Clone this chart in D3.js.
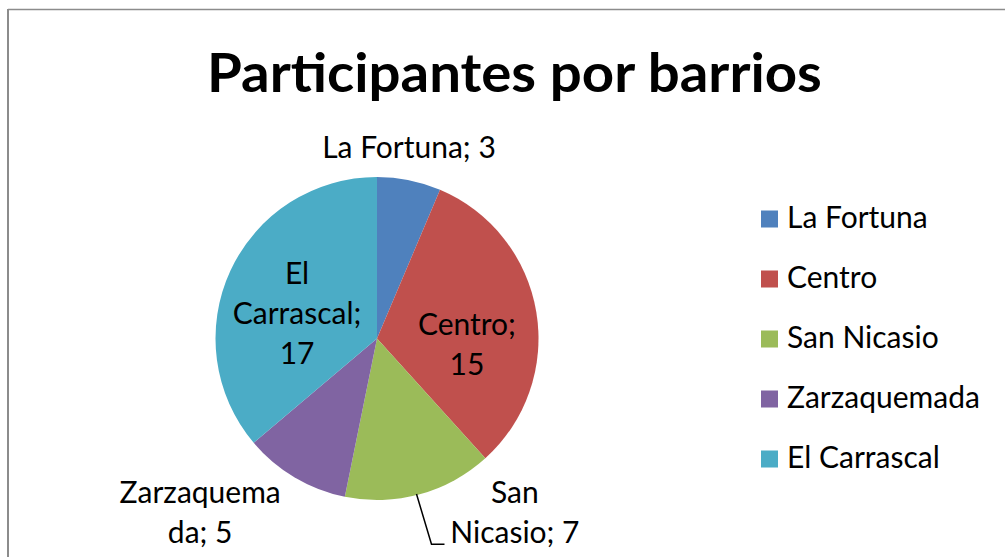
<!DOCTYPE html>
<html>
<head>
<meta charset="utf-8">
<script src="https://cdn.jsdelivr.net/npm/d3@7"></script>
<style>
html,body{margin:0;padding:0;background:#fff;}
svg{display:block;}
text{font-family:Lato,"Open Sans",sans-serif;fill:#000;}
</style>
</head>
<body>
<svg id="chart" width="1005" height="557"></svg>
<script>
const categories = ["La Fortuna", "Centro", "San Nicasio", "Zarzaquemada", "El Carrascal"];
const values = [3, 15, 7, 5, 17];
const colors = ["#4F81BD", "#C0504D", "#9BBB59", "#8064A2", "#4BACC6"];
// data label lines as they wrap in the original
const labelLines = [
  ["La Fortuna; 3"],
  ["Centro;", "15"],
  ["San", "Nicasio; 7"],
  ["Zarzaquema", "da; 5"],
  ["El", "Carrascal;", "17"]
];
const title = "Participantes por barrios";

const W = 1005, H = 557;
const svg = d3.select("#chart");

// frame (only top & left edges are visible in the original crop)
svg.append("line").attr("x1", 8).attr("y1", 9.5).attr("x2", W).attr("y2", 9.5)
  .attr("stroke", "#8c8c8c").attr("stroke-width", 1.5);
svg.append("line").attr("x1", 8).attr("y1", 9).attr("x2", 8).attr("y2", H)
  .attr("stroke", "#8c8c8c").attr("stroke-width", 2);

// title
const tX = 514.5;
const t = svg.append("text").attr("x", tX).attr("y", 92)
  .attr("text-anchor", "middle").attr("font-weight", "bold")
  .attr("font-size", 54).text(title);
const tw = t.node().getComputedTextLength();
const titleTarget = 615;
t.attr("transform", `translate(${tX},0) scale(${titleTarget / tw},1) translate(${-tX},0)`);

// pie
const cx = 377, cy = 338.5, R = 161.5;
const pie = d3.pie().sort(null).value(d => d.v);
const data = categories.map((c, i) => ({ c, v: values[i], i }));
const arcs = pie(data);
const arc = d3.arc().innerRadius(0).outerRadius(R);
const g = svg.append("g").attr("transform", `translate(${cx},${cy})`);
g.selectAll("path").data(arcs).join("path")
  .attr("d", arc).attr("fill", d => colors[d.data.i]);

// label layout: anchor (relative to pie centre, in radius units) and first baseline
const labelPos = [
  { dx: 0.198, y0: -1.116 },
  { dx: 0.557, y0: -0.022 },
  { dx: 0.854, y0: 1.020 },
  { dx: -1.095, y0: 1.020 },
  { dx: -0.495, y0: -0.338 }
];
const lineH = 40;
const lblFont = 30;
const labels = g.selectAll("g.lbl").data(arcs).join("g").attr("class", "lbl");
labels.each(function (d) {
  const p = labelPos[d.data.i];
  const lines = labelLines[d.data.i];
  const txt = d3.select(this).append("text")
    .attr("text-anchor", "middle").attr("font-size", lblFont);
  lines.forEach((ln, k) => {
    txt.append("tspan").attr("x", p.dx * R).attr("y", p.y0 * R + k * lineH).text(ln);
  });
});

// leader line for San Nicasio (from slice edge to label)
{
  const a = arcs[2];
  const ang = a.startAngle + (a.endAngle - a.startAngle) * 0.52;
  const sx = Math.sin(ang) * (R - 1), sy = -Math.cos(ang) * (R - 1);
  const p = labelPos[2];
  const yEnd = p.y0 * R + lineH + 1;
  g.append("path")
    .attr("d", d3.line()([[sx, sy], [sx + 15, yEnd], [sx + 28, yEnd]]))
    .attr("fill", "none").attr("stroke", "#000").attr("stroke-width", 1.5);
}

// legend
const legX = 761, legY0 = 219, legStep = 60, sw = 17;
const leg = svg.append("g");
categories.forEach((c, i) => {
  const y = legY0 + i * legStep;
  leg.append("rect").attr("x", legX).attr("y", y - sw / 2).attr("width", sw).attr("height", sw)
    .attr("fill", colors[i]);
  leg.append("text").attr("x", legX + 26).attr("y", y + 9)
    .attr("font-size", lblFont).text(c);
});
</script>
</body>
</html>
